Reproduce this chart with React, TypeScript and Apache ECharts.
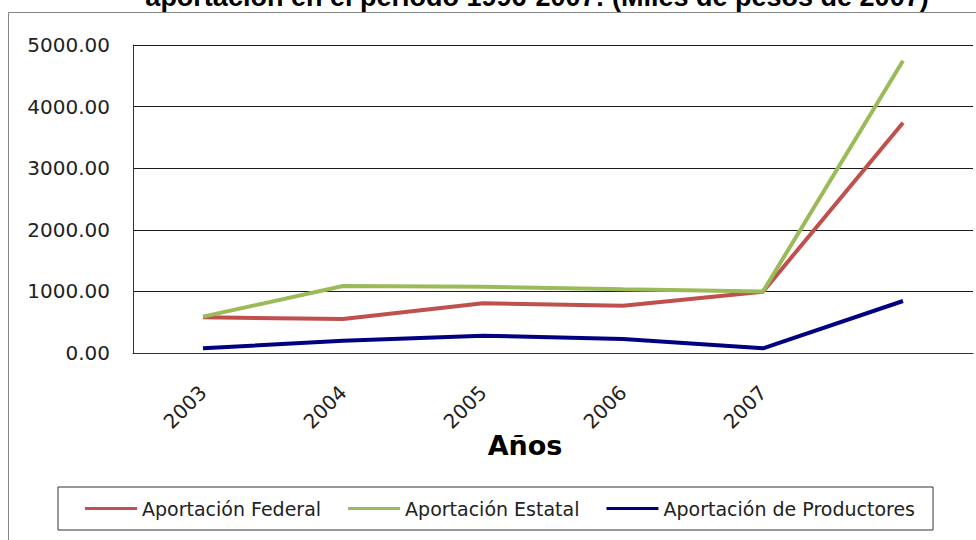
import React, { useEffect, useRef } from "react";
import * as echarts from "echarts";

// Years on the category axis (the last point has no label)
const years = ["2003", "2004", "2005", "2006", "2007", ""];

// Contributions, thousands of 2007 pesos
const federal = [580, 552, 806, 768, 995, 3739];
const estatal = [590, 1088, 1077, 1034, 1000, 4745];
const productores = [76, 200, 281, 227, 76, 844];

const yTicks = { min: 0, max: 5000, interval: 1000 };

const seriesNames = [
  "Aportación Federal",
  "Aportación Estatal",
  "Aportación de Productores",
];
const seriesColors = ["#C0504D", "#9BBB59", "#000080"];

const titleText = "aportación en el periodo 1996-2007: (Miles de pesos de 2007)";
const FONT = "DejaVu Sans";

export default function App() {
  const ref = useRef<HTMLDivElement>(null);

  useEffect(() => {
    if (!ref.current) return;
    const chart = echarts.init(ref.current, null, { renderer: "svg" });
    const values = [federal, estatal, productores];

    chart.setOption({
      animation: false,
      backgroundColor: "#ffffff",
      grid: { left: 133, right: 3, top: 45, bottom: 187, containLabel: false },
      graphic: [
        {
          type: "rect",
          shape: { x: 8.5, y: 12.5, width: 1000, height: 600 },
          style: { fill: "none", stroke: "#868686", lineWidth: 1 },
          silent: true,
          z: 0,
        },
        {
          type: "text",
          x: 537,
          y: -3,
          style: {
            text: titleText,
            fontFamily: "Liberation Sans",
            fontWeight: "bold",
            fontSize: 27,
            fill: "#000",
            textAlign: "center",
            textVerticalAlign: "middle",
          },
        },
        {
          type: "text",
          x: 525,
          y: 445,
          style: {
            text: "Años",
            fontFamily: FONT,
            fontWeight: "bold",
            fontSize: 27,
            fill: "#000",
            textAlign: "center",
            textVerticalAlign: "middle",
          },
        },
      ],
      legend: {
        left: 58,
        top: 487,
        orient: "horizontal",
        icon: "rect",
        itemWidth: 52,
        itemHeight: 3,
        itemGap: 27,
        padding: [12, 18, 12, 27],
        borderColor: "#333",
        borderWidth: 1,
        textStyle: { fontFamily: FONT, fontSize: 19, color: "#222" },
        data: seriesNames,
      },
      xAxis: {
        type: "category",
        data: years,
        boundaryGap: true,
        axisLine: { show: true, lineStyle: { color: "#333", width: 1 } },
        axisTick: { show: false },
        axisLabel: {
          interval: 0,
          rotate: 45,
          margin: 36,
          fontFamily: FONT,
          fontSize: 20,
          color: "#222",
        },
        splitLine: { show: false },
      },
      yAxis: {
        type: "value",
        min: yTicks.min,
        max: yTicks.max,
        interval: yTicks.interval,
        axisLine: { show: true, lineStyle: { color: "#333", width: 1 } },
        axisTick: { show: false },
        axisLabel: {
          margin: 23,
          fontFamily: FONT,
          fontSize: 20,
          color: "#222",
          formatter: (v: number) => v.toFixed(2),
        },
        splitLine: { show: true, lineStyle: { color: "#1a1a1a", width: 1 } },
      },
      series: seriesNames.map((name, i) => ({
        name,
        type: "line",
        data: values[i],
        symbol: "none",
        showSymbol: false,
        lineStyle: { color: seriesColors[i], width: 4 },
        itemStyle: { color: seriesColors[i] },
      })),
    });

    return () => chart.dispose();
  }, []);

  return (
    <div
      ref={ref}
      style={{ position: "fixed", left: 0, top: 0, width: 976, height: 540 }}
    />
  );
}
